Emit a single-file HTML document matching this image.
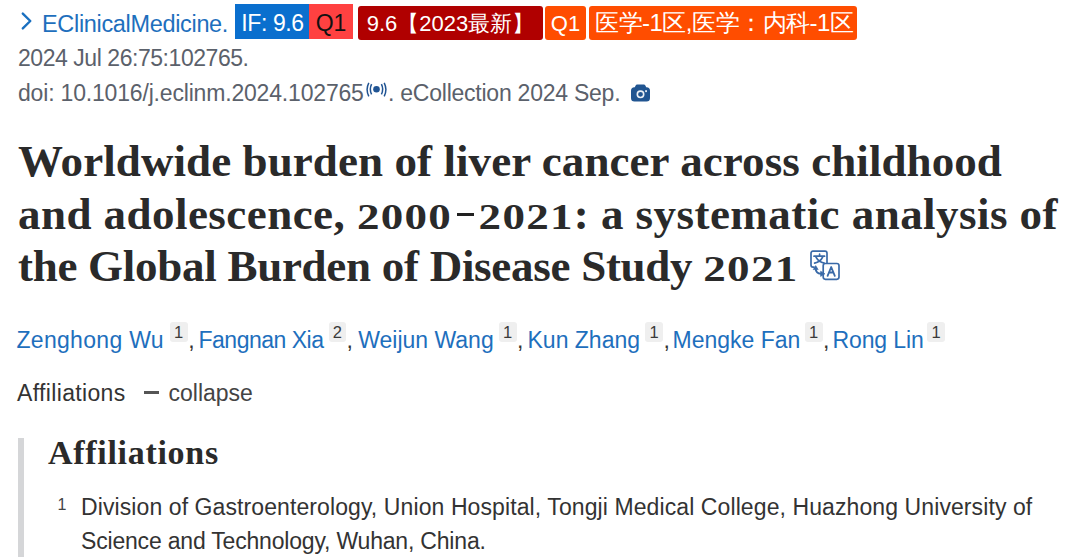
<!DOCTYPE html>
<html><head><meta charset="utf-8">
<style>
*{margin:0;padding:0;box-sizing:border-box}
html,body{width:1080px;height:557px;overflow:hidden;background:#fff}
body{position:relative;font-family:"Liberation Sans",sans-serif;color:#212121}
.ab{position:absolute;white-space:nowrap}
.l{color:#1e6fbd}
.g{color:#5b616b}
.serif{font-family:"Liberation Serif",serif;font-weight:bold;color:#2a2a2a}
.bx{position:absolute;color:#fff;font-size:22px;line-height:34px;padding-top:2px;white-space:nowrap;text-align:center}
.au{font-size:23px;line-height:36px;top:322px}
.cm{color:#333}
.supb{top:322px;height:20px;background:#efefef;border-radius:3px;color:#3a3a3a;font-size:16.5px;line-height:21px;text-align:center}
.dg{display:inline-block;transform:scaleY(0.8);transform-origin:0 41.5px;letter-spacing:1.3px}
.ds{display:inline-block;width:17px;height:3.5px;background:#212121;vertical-align:12.5px;margin:0 4.5px 0 5px}
.sup{display:inline-block;background:#f0f0f0;color:#5b616b;font-size:15px;line-height:19px;padding:0 4px;border-radius:3px;vertical-align:top}
</style></head><body>

<!-- line 1 -->
<svg class="ab" style="left:20px;top:11px" width="14" height="20" viewBox="0 0 14 20"><path d="M2.8 2.6 L10.3 10 L2.8 17.4" fill="none" stroke="#1a70c0" stroke-width="2.4" stroke-linecap="round" stroke-linejoin="round"/></svg>
<div class="ab l" style="left:42px;top:5px;font-size:23.5px;line-height:38px;letter-spacing:-0.33px">EClinicalMedicine.</div>

<div class="bx" style="left:235px;top:4px;width:74px;height:34.5px;background:#0a6fce;font-size:23px;padding-left:1px;letter-spacing:-0.4px">IF: 9.6</div>
<div class="bx" style="left:309px;top:4px;width:44px;height:34.5px;background:#ff4141;color:#111;font-size:23px">Q1</div>
<div class="bx" style="left:358px;top:6px;width:185px;height:33.5px;background:#b00000;border-radius:3px;padding-top:1px">9.6【2023最新】</div>
<div class="bx" style="left:545px;top:6px;width:41px;height:33.5px;background:#ff4d00;border-radius:3px;padding-top:0.5px">Q1</div>
<div class="bx" style="left:589px;top:6px;width:268px;height:33.5px;background:#ff4d00;border-radius:3px;font-size:24px;text-align:left;padding-left:6px;letter-spacing:-0.5px;line-height:33px;padding-top:0px">医学-1区,医学：内科-1区</div>

<!-- line 2 -->
<div class="ab g" style="left:18px;top:40.5px;font-size:23px;line-height:35px;letter-spacing:-0.45px">2024 Jul 26:75:102765.</div>
<!-- line 3 -->
<div class="ab g" style="left:18px;top:76px;font-size:23px;line-height:35px;letter-spacing:-0.18px">doi: 10.1016/j.eclinm.2024.102765</div>
<svg class="ab" style="left:366px;top:81.5px" width="21" height="16" viewBox="0 0 21 16"><circle cx="10.5" cy="7.3" r="3.3" fill="#205493"/><path d="M5.6 2.2 Q3 7.3 5.6 12.4 M15.4 2.2 Q18 7.3 15.4 12.4" fill="none" stroke="#205493" stroke-width="1.5"/><path d="M2.8 0.8 Q-0.6 7.5 2.8 14.4 M18.2 0.8 Q21.6 7.5 18.2 14.4" fill="none" stroke="#205493" stroke-width="1.5"/></svg>
<div class="ab g" style="left:388px;top:76px;font-size:23px;line-height:35px;letter-spacing:-0.24px">. eCollection 2024 Sep.</div>
<svg class="ab" style="left:631px;top:84px" width="19" height="18" viewBox="0 0 19 18"><path d="M6.2 0.4 H12.8 Q13.9 0.4 14.5 1.8 L15.2 3.2 H15.5 Q19 3.2 19 6.7 V14 Q19 17.6 15.5 17.6 H3.5 Q0 17.6 0 14 V6.7 Q0 3.2 3.5 3.2 H3.8 L4.5 1.8 Q5.1 0.4 6.2 0.4Z" fill="#215591"/><circle cx="9.5" cy="10.3" r="3.2" fill="none" stroke="#fff" stroke-width="1.6" opacity="0.92"/><rect x="14.1" y="6.2" width="1.9" height="1.9" fill="#fff" opacity="0.85"/></svg>

<!-- title -->
<div class="ab serif" style="left:18px;top:135px;font-size:45px;line-height:52.7px;letter-spacing:0.08px">Worldwide burden of liver cancer across childhood</div>
<div class="ab serif" style="left:18px;top:187.7px;font-size:45px;line-height:52.7px;letter-spacing:0.45px">and adolescence, <span class="dg">2000</span><span class="ds"></span><span class="dg">2021</span>: a systematic analysis of</div>
<div class="ab serif" style="left:18px;top:240.4px;font-size:45px;line-height:52.7px;letter-spacing:-0.28px">the Global Burden of Disease Study <span class="dg">2021</span></div>
<svg class="ab" style="left:806px;top:246px" width="38" height="38" viewBox="0 0 38 38"><g fill="none" stroke="#3a6aa8" stroke-width="1.7" stroke-linecap="round" stroke-linejoin="round"><path d="M8 21.1 H7 Q5 21.1 5 19 V7.3 Q5 5.2 7 5.2 H19 Q21 5.2 21 7.3 V17"/><path d="M13.6 8.2 V9.8 M8 10.2 H18.6 M10 11.2 Q12.5 16 18.2 17.2 M16.6 11.2 Q14.5 16 8.6 17.2"/><rect x="17.2" y="17.5" width="15.8" height="15.8" rx="2.2" fill="#fff"/><path d="M21.6 29.8 L25.2 21 L28.8 29.8 M22.9 26.5 H27.5" stroke-width="1.8"/><path d="M9.7 22.8 Q9.9 27.6 15 27.8" stroke-width="2"/></g><path d="M7.2 23.6 L9.7 19.6 L12.2 23.6Z M14.6 25.2 L19 27.8 L14.6 30.4Z" fill="#3a6aa8" stroke="#3a6aa8" stroke-width="0.6" stroke-linejoin="round"/></svg>

<!-- authors -->
<div class="ab l au" style="left:16.5px;letter-spacing:0.3px">Zenghong Wu</div>
<div class="ab l au" style="left:198.5px;letter-spacing:-0.5px">Fangnan Xia</div>
<div class="ab l au" style="left:358.2px">Weijun Wang</div>
<div class="ab l au" style="left:527.5px">Kun Zhang</div>
<div class="ab l au" style="left:672.5px">Mengke Fan</div>
<div class="ab l au" style="left:832.5px;letter-spacing:-0.12px">Rong Lin</div>
<div class="ab supb" style="left:169.6px;width:18.1px">1</div>
<div class="ab au cm" style="left:188.2px">,</div>
<div class="ab supb" style="left:328.9px;width:17.0px">2</div>
<div class="ab au cm" style="left:346.4px">,</div>
<div class="ab supb" style="left:498.5px;width:18.0px">1</div>
<div class="ab au cm" style="left:517.0px">,</div>
<div class="ab supb" style="left:645.0px;width:18.0px">1</div>
<div class="ab au cm" style="left:663.5px">,</div>
<div class="ab supb" style="left:804.5px;width:18.0px">1</div>
<div class="ab au cm" style="left:823.0px">,</div>
<div class="ab supb" style="left:927.0px;width:18.0px">1</div>

<div class="ab au" style="left:17px;top:374.5px;color:#333;letter-spacing:0.35px">Affiliations</div>
<div class="ab" style="left:143.5px;top:391px;width:15px;height:3px;background:#555"></div>
<div class="ab au" style="left:168.5px;top:374.5px;color:#444">collapse</div>

<!-- affiliations box -->
<div class="ab" style="left:18px;top:438px;width:6px;height:130px;background:#d5d6d8"></div>
<div class="ab serif" style="left:48px;top:429px;font-size:34px;line-height:48px;letter-spacing:0.7px">Affiliations</div>
<div class="ab" style="left:57.5px;top:493px;font-size:16px;line-height:24px;color:#444">1</div>
<div class="ab" style="left:81px;top:490px;font-size:23px;line-height:34.2px;color:#333;letter-spacing:0.095px">Division of Gastroenterology, Union Hospital, Tongji Medical College, Huazhong University of</div>
<div class="ab" style="left:81px;top:524.2px;font-size:23px;line-height:34.2px;color:#333;letter-spacing:-0.19px">Science and Technology, Wuhan, China.</div>

</body></html>
